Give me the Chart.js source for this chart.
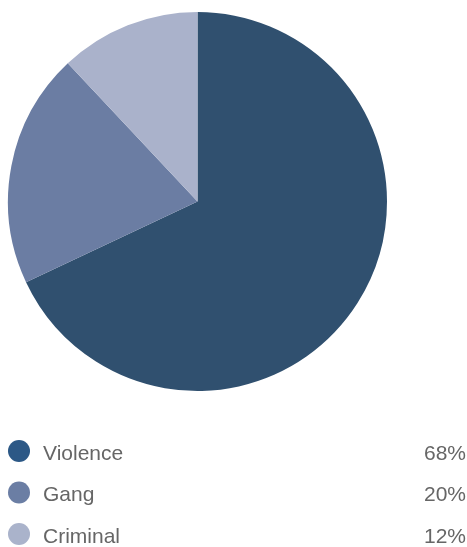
<!DOCTYPE html>
<html>
<head>
<meta charset="utf-8">
<script src="https://cdn.jsdelivr.net/npm/chart.js@4"></script>
<style>
  html, body { margin: 0; padding: 0; background: #fff; }
  #wrap { width: 467px; height: 547px; position: relative; }
</style>
</head>
<body>
<div id="wrap"><canvas id="pieChart"></canvas></div>
<script>
const labels = ["Violence", "Gang", "Criminal"];
const values = [68, 20, 12];
const sliceColors = ["#30506f", "#6b7da3", "#aab2cb"];
const dotColors = ["#2c5886", "#6b7ea4", "#aab3cb"];

// legend under the pie: dot + name on the left, percent on the right
const bottomLegend = {
  id: "bottomLegend",
  afterDraw(chart) {
    const ctx = chart.ctx;
    const ds = chart.data.datasets[0];
    ctx.save();
    ctx.font = "300 21px 'Liberation Sans', Arial, sans-serif";
    ctx.textBaseline = "middle";
    chart.data.labels.forEach((lab, i) => {
      const y = 451 + i * 41.5;
      ctx.fillStyle = dotColors[i];
      ctx.beginPath();
      ctx.arc(19, y, 11, 0, Math.PI * 2);
      ctx.fill();
      ctx.fillStyle = "#666";
      ctx.textAlign = "left";
      ctx.fillText(lab, 43, y + 3);
      ctx.textAlign = "right";
      ctx.fillText(ds.data[i] + "%", 466, y + 3);
    });
    ctx.restore();
  },
};

new Chart(document.getElementById("pieChart"), {
  type: "pie",
  data: {
    labels: labels,
    datasets: [
      {
        data: values,
        backgroundColor: sliceColors,
        borderWidth: 0,
      },
    ],
  },
  options: {
    responsive: true,
    maintainAspectRatio: false,
    animation: false,
    layout: { padding: { left: 8, right: 80, top: 12, bottom: 156 } },
    plugins: {
      legend: { display: false },
      tooltip: { enabled: false },
    },
  },
  plugins: [bottomLegend],
});
</script>
</body>
</html>
